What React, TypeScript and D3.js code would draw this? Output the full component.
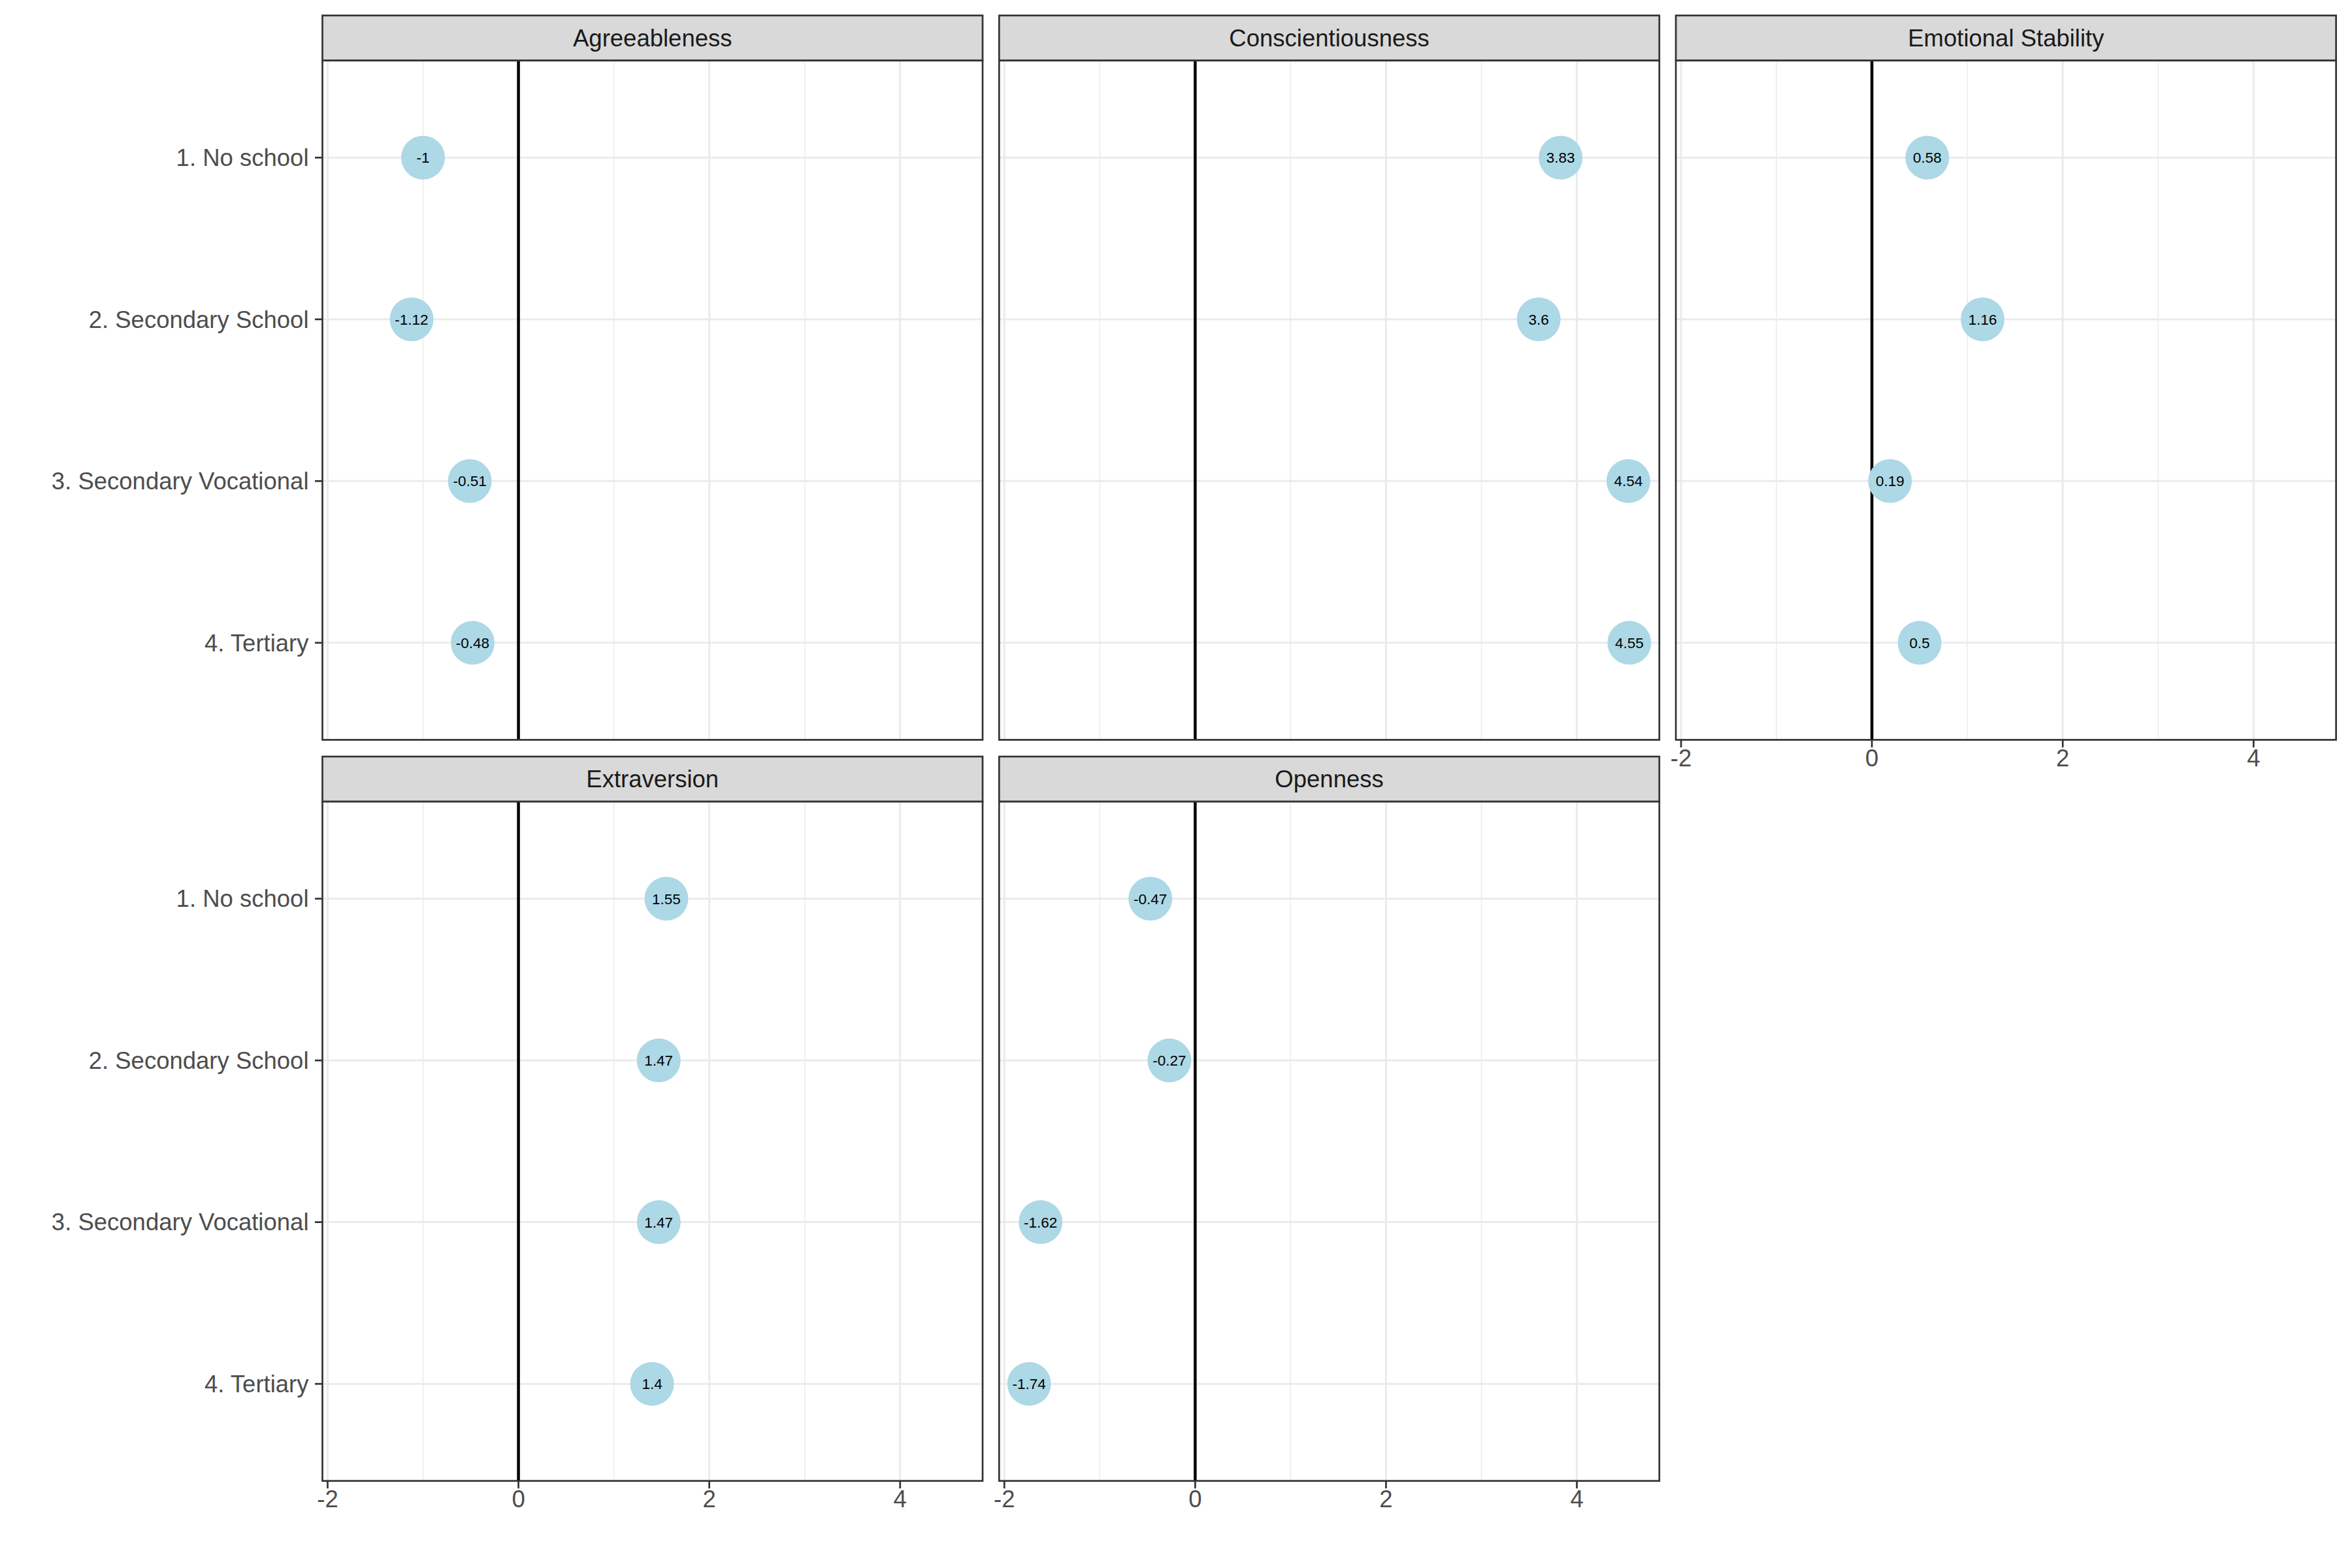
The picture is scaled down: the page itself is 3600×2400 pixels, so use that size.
import React from "react";
import * as d3 from "d3";

const traits = ["Agreeableness", "Conscientiousness", "Emotional Stability", "Extraversion", "Openness"];
const levels = ["1. No school", "2. Secondary School", "3. Secondary Vocational", "4. Tertiary"];
const agreeableness = [-1, -1.12, -0.51, -0.48];
const conscientiousness = [3.83, 3.6, 4.54, 4.55];
const emotionalStability = [0.58, 1.16, 0.19, 0.5];
const extraversion = [1.55, 1.47, 1.47, 1.4];
const openness = [-0.47, -0.27, -1.62, -1.74];
const xMajor = [-2, 0, 2, 4];
const xMinor = [-1, 1, 3];

const seriesByTrait = [agreeableness, conscientiousness, emotionalStability, extraversion, openness];

const W = 3600;
const H = 2400;
const left = 493.5;
const colPitch = 1035.8;
const panelW = 1010.5;
const stripH = 69;
const panelH = 1039.7;
const rowStripTop = [23.7, 1158];
const font = "'Liberation Sans', Arial, Helvetica, sans-serif";
const fs = 36.5;

export default function App() {
  const all = seriesByTrait.flat();
  const lo = d3.min(all) as number;
  const hi = d3.max(all) as number;
  const pad = (hi - lo) * 0.05;
  const x = d3.scaleLinear().domain([lo - pad, hi + pad]).range([0, panelW]);
  const y = d3.scalePoint<string>().domain(levels).range([0, panelH]).padding(0.6);

  const panels = traits.map((t, i) => {
    const col = i % 3;
    const row = Math.floor(i / 3);
    const px = left + col * colPitch;
    const sTop = rowStripTop[row];
    const py = sTop + stripH;
    // x axis shown when no panel below
    const showX = row === 1 || i + 3 >= traits.length;
    const showY = col === 0;
    const vals = seriesByTrait[i];
    return (
      <g key={t}>
        {/* strip */}
        <rect x={px} y={sTop} width={panelW} height={stripH} fill="#D9D9D9" stroke="#333333" strokeWidth={2.7} />
        <text x={px + panelW / 2} y={sTop + stripH / 2} dy="0.35em" textAnchor="middle" fontSize={fs} fill="#1A1A1A" fontFamily={font}>
          {t}
        </text>
        <g transform={`translate(${px},${py})`}>
          <rect x={0} y={0} width={panelW} height={panelH} fill="#FFFFFF" />
          {xMinor.map((v) => (
            <line key={"mn" + v} x1={x(v)} x2={x(v)} y1={0} y2={panelH} stroke="#EBEBEB" strokeWidth={1.5} />
          ))}
          {xMajor.map((v) => (
            <line key={"mj" + v} x1={x(v)} x2={x(v)} y1={0} y2={panelH} stroke="#EBEBEB" strokeWidth={3} />
          ))}
          {levels.map((l) => (
            <line key={"h" + l} x1={0} x2={panelW} y1={y(l)} y2={y(l)} stroke="#EBEBEB" strokeWidth={3} />
          ))}
          <line x1={x(0)} x2={x(0)} y1={0} y2={panelH} stroke="#000000" strokeWidth={4.5} />
          {vals.map((v, j) => (
            <g key={"p" + j}>
              <circle cx={x(v)} cy={y(levels[j])} r={33.5} fill="#ADD8E6" />
              <text x={x(v)} y={y(levels[j])} dy="0.36em" textAnchor="middle" fontSize={22.5} fill="#000000" fontFamily={font}>
                {String(v)}
              </text>
            </g>
          ))}
          <rect x={0} y={0} width={panelW} height={panelH} fill="none" stroke="#333333" strokeWidth={2.7} />
          {showX &&
            xMajor.map((v) => (
              <g key={"xt" + v}>
                <line x1={x(v)} x2={x(v)} y1={panelH} y2={panelH + 11.5} stroke="#333333" strokeWidth={2.7} />
                <text x={x(v)} y={panelH + 14.5} dy="0.71em" textAnchor="middle" fontSize={fs} fill="#4D4D4D" fontFamily={font}>
                  {String(v)}
                </text>
              </g>
            ))}
          {showY &&
            levels.map((l) => (
              <g key={"yt" + l}>
                <line x1={-11.5} x2={0} y1={y(l)} y2={y(l)} stroke="#333333" strokeWidth={2.7} />
                <text x={-21} y={y(l)} dy="0.35em" textAnchor="end" fontSize={fs} fill="#4D4D4D" fontFamily={font}>
                  {l}
                </text>
              </g>
            ))}
        </g>
      </g>
    );
  });

  return (
    <svg
      width={W}
      height={H}
      viewBox={`0 0 ${W} ${H}`}
      style={{ position: "absolute", left: 0, top: 0, background: "#FFFFFF" }}
    >
      <rect x={0} y={0} width={W} height={H} fill="#FFFFFF" />
      {panels}
    </svg>
  );
}
